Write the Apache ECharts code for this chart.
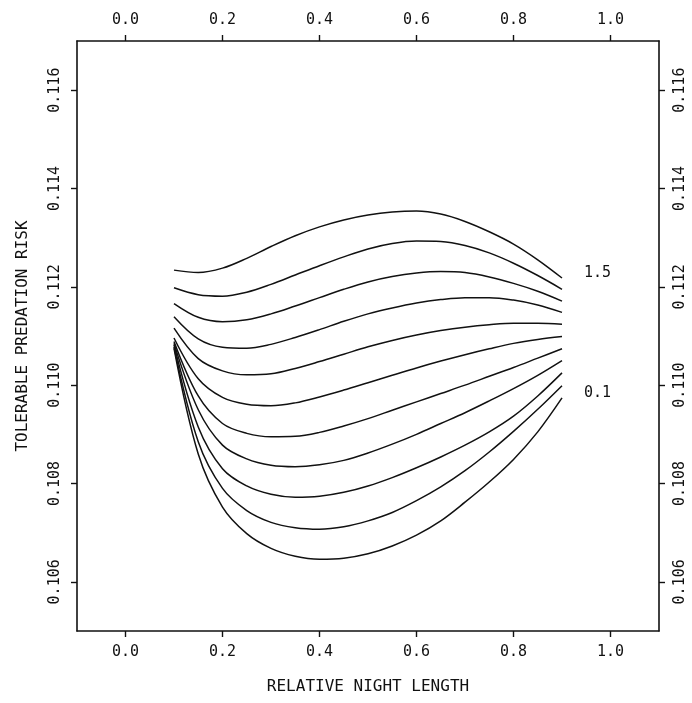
<!DOCTYPE html>
<html>
<head>
<meta charset="utf-8">
<script src="https://cdn.jsdelivr.net/npm/echarts@6/dist/echarts.min.js"></script>
<style>
html,body{margin:0;padding:0;background:#fff;}
#chart{width:692px;height:703px;}
</style>
</head>
<body>
<div id="chart"></div>
<script>
// x positions (relative night length) at which curves were read
const xValues = [0.10,0.15,0.20,0.25,0.30,0.35,0.40,0.45,0.50,0.55,0.60,0.65,0.70,0.75,0.80,0.85,0.90];

// curves, top (1.5) to bottom (0.1)
const curve01 = [0.11234,0.11229,0.11238,0.11258,0.11282,0.11304,0.11322,0.11336,0.11346,0.11352,0.11354,0.11348,0.11333,0.11312,0.11287,0.11255,0.11218];
const curve02 = [0.11198,0.11184,0.11181,0.11189,0.11205,0.11224,0.11243,0.11261,0.11277,0.11288,0.11293,0.11292,0.11284,0.11269,0.11248,0.11223,0.11195];
const curve03 = [0.11166,0.11138,0.11129,0.11133,0.11145,0.11161,0.11178,0.11195,0.11210,0.11221,0.11228,0.11231,0.11229,0.11220,0.11207,0.11191,0.11171];
const curve04 = [0.11139,0.11094,0.11077,0.11075,0.11083,0.11097,0.11113,0.11130,0.11145,0.11157,0.11167,0.11174,0.11178,0.11178,0.11173,0.11163,0.11148];
const curve05 = [0.11116,0.11054,0.11029,0.11021,0.11023,0.11034,0.11048,0.11063,0.11078,0.11091,0.11102,0.11111,0.11118,0.11123,0.11126,0.11126,0.11124];
const curve06 = [0.11096,0.11013,0.10975,0.10961,0.10958,0.10964,0.10976,0.10990,0.11005,0.11020,0.11035,0.11049,0.11062,0.11074,0.11085,0.11093,0.11099];
const curve07 = [0.11089,0.10978,0.10922,0.10902,0.10895,0.10896,0.10904,0.10917,0.10932,0.10949,0.10966,0.10983,0.11000,0.11018,0.11036,0.11055,0.11074];
const curve08 = [0.11085,0.10950,0.10878,0.10850,0.10837,0.10834,0.10838,0.10847,0.10862,0.10880,0.10900,0.10922,0.10944,0.10968,0.10993,0.11020,0.11050];
const curve09 = [0.11082,0.10915,0.10830,0.10795,0.10778,0.10772,0.10774,0.10782,0.10795,0.10812,0.10832,0.10854,0.10878,0.10905,0.10937,0.10978,0.11025];
const curve10 = [0.11078,0.10885,0.10790,0.10745,0.10721,0.10710,0.10707,0.10712,0.10724,0.10741,0.10765,0.10793,0.10826,0.10864,0.10906,0.10951,0.10999];
const curve11 = [0.11075,0.10860,0.10752,0.10698,0.10668,0.10652,0.10646,0.10648,0.10657,0.10673,0.10695,0.10724,0.10762,0.10803,0.10849,0.10905,0.10974];

const curves = [curve01,curve02,curve03,curve04,curve05,curve06,curve07,curve08,curve09,curve10,curve11];
const endLabels = ['1.5','','','','','','','','','','0.1'];

const xTicks = [0.0,0.2,0.4,0.6,0.8,1.0];
const yTicks = [0.106,0.108,0.110,0.112,0.114,0.116];

const FONT = 'DejaVu Sans Mono';
const INK = '#111';

const chart = echarts.init(document.getElementById('chart'), null, {renderer:'canvas'});

function xAxisCfg(pos, withName){
  return {
    type:'value', position:pos, min:-0.1, max:1.1,
    axisLine:{show:true, onZero:false, lineStyle:{color:INK, width:1.6}},
    axisTick:{show:true, inside:false, length:6, customValues:xTicks, lineStyle:{color:INK, width:1.4}},
    axisLabel:{show:true, customValues:xTicks, margin:pos==='top'?13:14, fontFamily:FONT, fontSize:15, color:INK,
      formatter:v=>v.toFixed(1)},
    splitLine:{show:false},
    name: withName ? 'RELATIVE NIGHT LENGTH' : '',
    nameLocation:'middle', nameGap:48,
    nameTextStyle:{fontFamily:FONT, fontSize:16, color:INK}
  };
}
function yAxisCfg(pos, withName){
  return {
    type:'value', position:pos, min:0.105, max:0.117,
    axisLine:{show:true, onZero:false, lineStyle:{color:INK, width:1.6}},
    axisTick:{show:true, inside:false, length:6, customValues:yTicks, lineStyle:{color:INK, width:1.4}},
    axisLabel:{show:true, customValues:yTicks, rotate:90, margin:14, fontFamily:FONT, fontSize:15, color:INK,
      formatter:v=>v.toFixed(3)},
    splitLine:{show:false},
    name: withName ? 'TOLERABLE PREDATION RISK' : '',
    nameLocation:'middle', nameGap:46, nameRotate:90,
    nameTextStyle:{fontFamily:FONT, fontSize:16, color:INK}
  };
}

const series = curves.map((c,i)=>({
  type:'line',
  xAxisIndex:0, yAxisIndex:0,
  data: xValues.map((x,j)=>[x,c[j]]),
  smooth:0.35,
  showSymbol:false,
  symbol:'none',
  silent:true,
  lineStyle:{color:INK, width:1.5},
  endLabel:{
    show: endLabels[i] !== '',
    formatter: ()=>endLabels[i],
    fontFamily:FONT, fontSize:15, color:INK,
    distance:22, offset:[0,-5]
  }
}));

chart.setOption({
  animation:false,
  backgroundColor:'#fff',
  grid:{left:77, right:33, top:41, bottom:72, outerBoundsMode:'none', containLabel:false},
  xAxis:[xAxisCfg('bottom', true), xAxisCfg('top', false)],
  yAxis:[yAxisCfg('left', true), yAxisCfg('right', false)],
  series: series
});
</script>
</body>
</html>
